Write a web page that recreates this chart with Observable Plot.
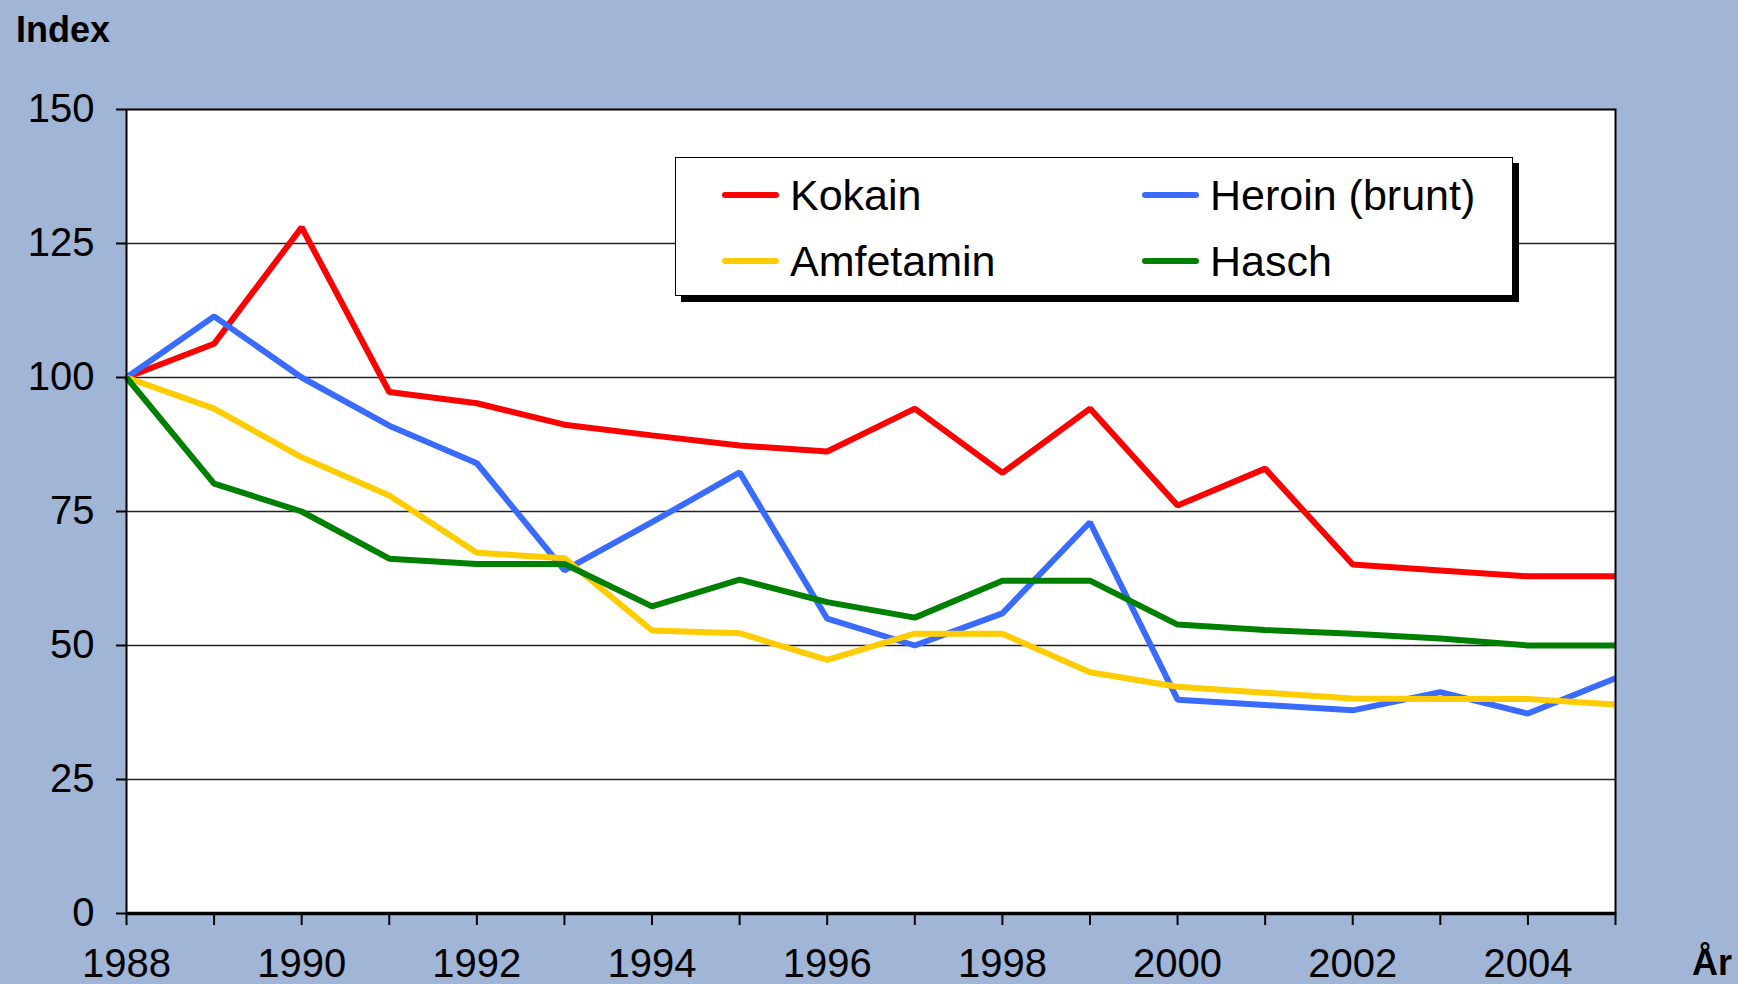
<!DOCTYPE html>
<html>
<head>
<meta charset="utf-8">
<script src="https://cdn.jsdelivr.net/npm/d3@7"></script>
<script src="https://cdn.jsdelivr.net/npm/@observablehq/plot@0.6"></script>
<style>
  html, body { margin: 0; padding: 0; background: #A1B5D6; }
  #wrap { position: relative; width: 1738px; height: 984px; overflow: hidden; font-family: "Liberation Sans", Arial, sans-serif; }
  #ylab { position: absolute; left: 16px; top: 9px; font-weight: bold; font-size: 36px; color: #000; }
  #xlab { position: absolute; left: 1692px; top: 942px; font-weight: bold; font-size: 36px; color: #000; }
  #legend { position: absolute; left: 675px; top: 157px; width: 836px; height: 137px; background: #fff;
            border: 1.5px solid #000; box-shadow: 6px 6px 0 #000; }
  .item { position: absolute; display: flex; align-items: center; font-size: 43px; color: #000; height: 50px; }
  .sw { display: inline-block; width: 57px; height: 5.5px; border-radius: 3px; margin-right: 11px; }
</style>
</head>
<body>
<div id="wrap">
  <div id="chart"></div>
  <div id="ylab">Index</div>
  <div id="xlab">År</div>
  <div id="legend"></div>
</div>
<script>
const years = [1988,1989,1990,1991,1992,1993,1994,1995,1996,1997,1998,1999,2000,2001,2002,2003,2004,2005];
const kokain    = [100,106.3,128,97.3,95.2,91.2,89.2,87.3,86.2,94.2,82.2,94.2,76.1,83,65.1,64,62.9,62.9];
const heroin    = [100,111.4,100,91,84,64,73,82.3,55,50,56,73,39.9,38.9,37.9,41.3,37.3,43.9];
const amfetamin = [100,94.2,85.1,78,67.3,66.3,52.8,52.3,47.3,52.2,52.2,45,42.3,41.2,40.1,40,40,39];
const hasch     = [100,80.2,75,66.2,65.2,65.2,57.3,62.3,58.1,55.2,62.1,62.1,53.9,52.9,52.2,51.3,50,50];
const seriesNames = ["Kokain","Heroin (brunt)","Amfetamin","Hasch"];
const seriesColors = ["#FF0000","#3A6BFF","#FFCC00","#008000"];
const yTicks = [0,25,50,75,100,125,150];
const gridTicks = [25,50,75,100,125];

const allSeries = [kokain, heroin, amfetamin, hasch];
const data = [];
allSeries.forEach((vals, si) => vals.forEach((v, i) => data.push({year: years[i], value: v, series: seriesNames[si]})));

const chart = Plot.plot({
  width: 1738,
  height: 984,
  marginLeft: 126,
  marginRight: 123,
  marginTop: 109,
  marginBottom: 71,
  style: { background: "transparent", fontFamily: "Liberation Sans, Arial, sans-serif", color: "#000", overflow: "visible" },
  x: { domain: [1988, 2005] },
  y: { domain: [0, 150] },
  color: { domain: seriesNames, range: seriesColors },
  marks: [
    Plot.frame({ fill: "white", stroke: "none" }),
    Plot.ruleY(gridTicks, { stroke: "#222", strokeWidth: 1.3 }),
    Plot.line(data, { x: "year", y: "value", z: "series", stroke: "series", strokeWidth: 6, strokeLinejoin: "miter", strokeLinecap: "butt" }),
    Plot.frame({ stroke: "#000", strokeWidth: 2 }),
    Plot.ruleY([0], { stroke: "#000", strokeWidth: 3.5 }),
    Plot.axisY({ ticks: yTicks, tickSize: 10, tickPadding: 22, fontSize: 40, tickFormat: d => String(d), label: null, strokeWidth: 2 }),
    Plot.axisX({ ticks: years, tickSize: 12, tickPadding: 23, fontSize: 40, tickFormat: d => (d % 2 === 0 ? String(d) : ""), label: null, strokeWidth: 2 })
  ]
});
document.getElementById("chart").appendChild(chart);

const legend = document.getElementById("legend");
const pos = [[46, 12], [466, 12], [46, 78], [466, 78]];
seriesNames.forEach((name, i) => {
  const it = document.createElement("div");
  it.className = "item";
  it.style.left = pos[i][0] + "px";
  it.style.top = pos[i][1] + "px";
  const sw = document.createElement("span");
  sw.className = "sw";
  sw.style.background = seriesColors[i];
  it.appendChild(sw);
  it.appendChild(document.createTextNode(name));
  legend.appendChild(it);
});
</script>
</body>
</html>
